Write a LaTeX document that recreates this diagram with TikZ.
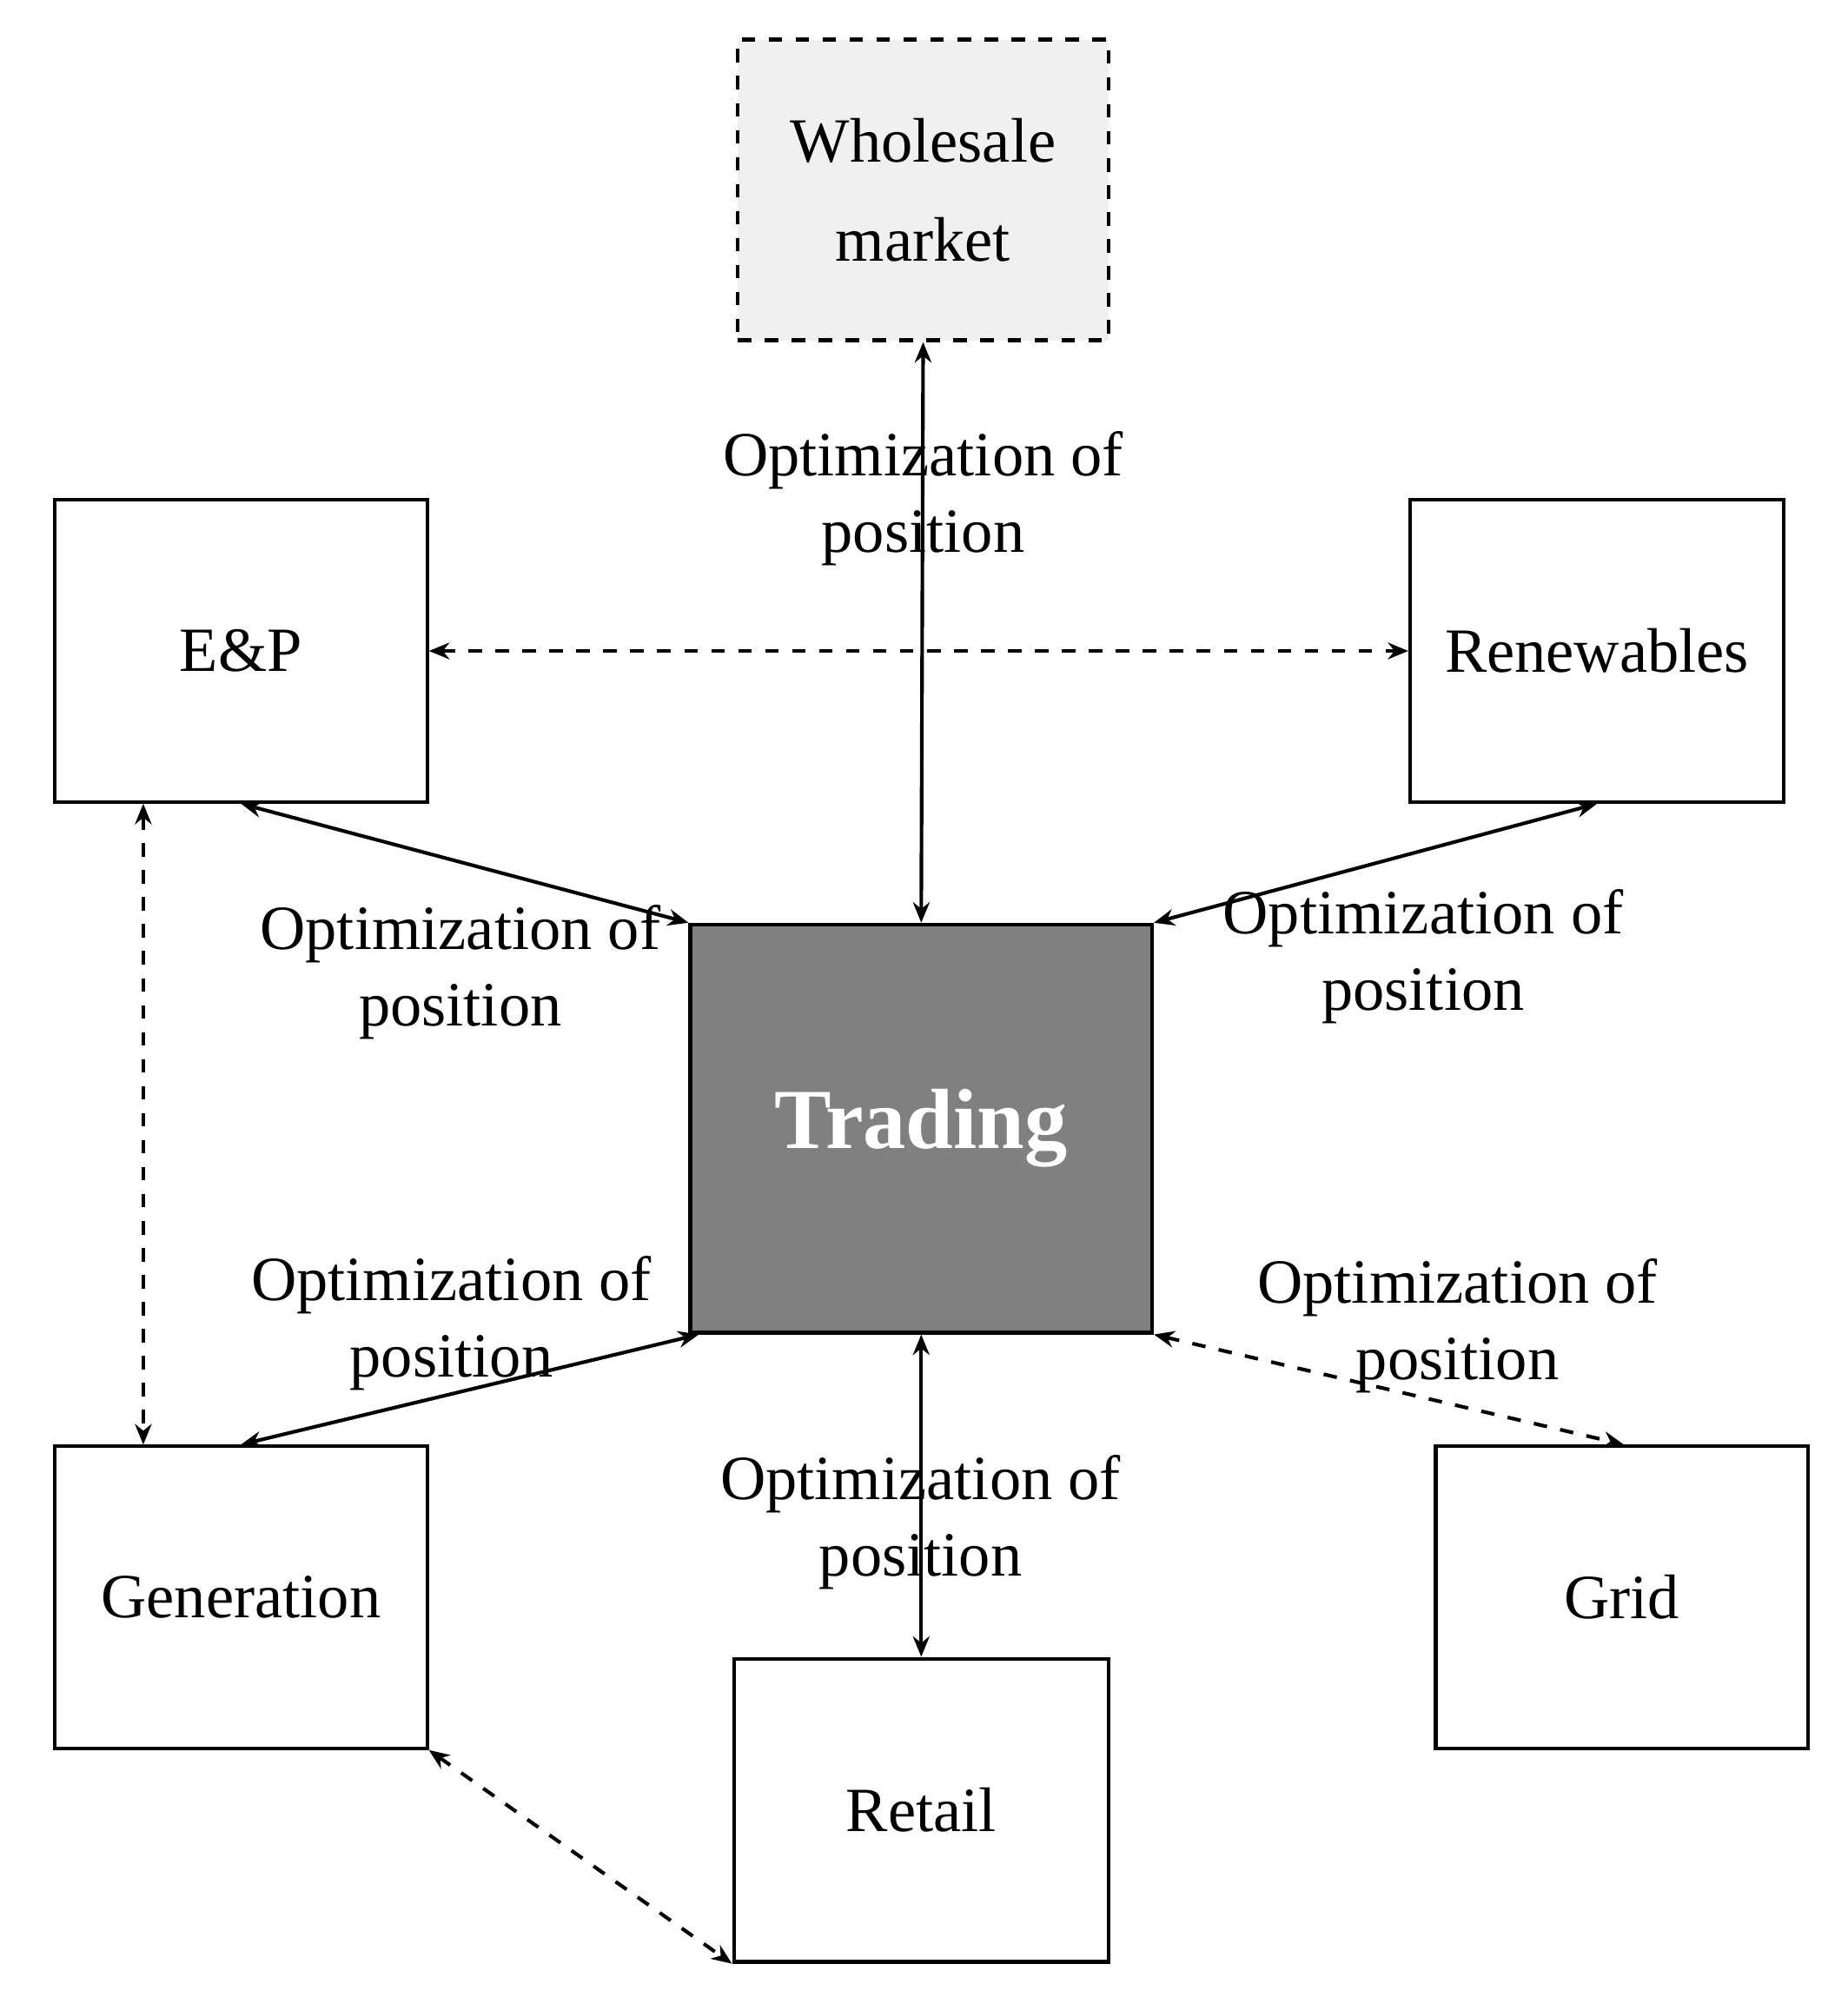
\documentclass[tikz,border=0pt]{standalone}
\usepackage{fontspec}
\setmainfont{Liberation Serif}
\usetikzlibrary{arrows.meta,calc}
\begin{document}
\begin{tikzpicture}[x=0.01cm,y=-0.01cm,
  box/.style={draw,line width=0.8pt,minimum width=2.91cm,minimum height=2.36cm,inner sep=0pt,font=\fontsize{14}{20}\selectfont,align=center},
  arr/.style={line width=0.8pt,{Stealth[length=1.6mm,width=1.3mm]}-{Stealth[length=1.6mm,width=1.3mm]}},
  dar/.style={arr,dashed},
  lab/.style={font=\fontsize{14}{17}\selectfont,align=center,inner sep=1pt}]
\useasboundingbox (0,0) rectangle (1445,1567);
\node[box,dashed,fill=gray!12,minimum width=2.90cm,minimum height=2.35cm] (wm) at (722,148.5) {Wholesale\\[2pt]market};
\node[box] (ep) at (188.5,509) {E\&P};
\node[box,minimum width=2.92cm] (ren) at (1249,509) {Renewables};
\node[box,fill=gray,text=white,minimum width=3.61cm,minimum height=3.19cm,font=\fontsize{19}{22}\selectfont\bfseries] (tr) at (720.5,882.5) {Trading};
\node[box] (gen) at (188.5,1249) {Generation};
\node[box,minimum width=2.93cm,minimum height=2.37cm] (ret) at (720.5,1415.5) {Retail};
\node[box] (grid) at (1268.5,1249) {Grid};
\coordinate (epb) at ($(ep.south west)!0.24!(ep.south east)$);
\coordinate (gent) at ($(gen.north west)!0.24!(gen.north east)$);
\coordinate (gridt) at ($(grid.north west)!0.505!(grid.north east)$);
\draw[arr] (wm.south) -- (tr.north);
\draw[dar] (ep.east) -- (ren.west);
\draw[arr] (ep.south) -- (tr.north west);
\draw[arr] (ren.south) -- (tr.north east);
\draw[dar] (epb) -- (gent);
\draw[arr] (gen.north) -- ([xshift=0.08cm]tr.south west);
\draw[dar] (tr.south east) -- (gridt);
\draw[arr] (tr.south) -- (ret.north);
\draw[dar] (gen.south east) -- (ret.south west);
\node[lab] (l1) at (722,390) {Optimization of\\position};
\node[lab] (l2) at (360,760) {Optimization of\\position};
\node[lab] (l3) at (1113,748) {Optimization of\\position};
\node[lab] (l4) at (353,1035) {Optimization of\\position};
\node[lab] (l5) at (1140,1037) {Optimization of\\position};
\node[lab] (l6) at (720,1190) {Optimization of\\position};
\end{tikzpicture}
\end{document}
